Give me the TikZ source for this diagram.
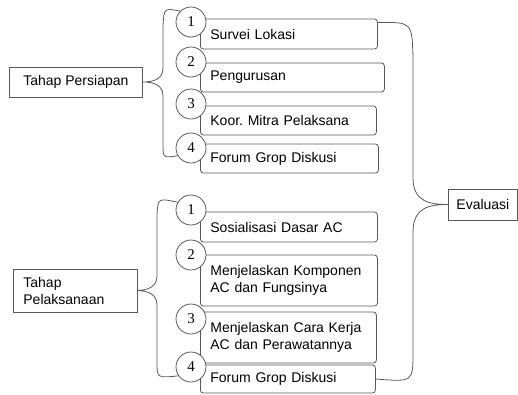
\documentclass[tikz,border=0pt]{standalone}
\usepackage{fontspec}
\setmainfont{Liberation Sans}
\newfontfamily\numfont{Liberation Serif}
\usetikzlibrary{calc}
\frenchspacing

\tikzset{
  itembox/.style={draw=black!65, rounded corners=3pt, anchor=west, inner xsep=10pt, align=left, font=\fontsize{14}{17}\selectfont},
  phasebox/.style={draw=black!65, anchor=west, inner xsep=10pt, align=left, font=\fontsize{14}{17}\selectfont},
  numcircle/.style={draw=black!65, fill=white, circle, minimum size=30pt, inner sep=0pt, font=\numfont\fontsize{15}{15}\selectfont},
  brace/.style={draw=black!65, line width=0.8pt}
}

\begin{document}
\begin{tikzpicture}[x=1pt, y=-1pt, line width=0.8pt]
			%%%%% START %%%%%
			\useasboundingbox (0,0) rectangle (518,394);
			
			% tahap persiapan
			\node[phasebox, minimum width=133pt, minimum height=30pt] (persiapan) at (9,82) {Tahap Persiapan};
			
			\node[itembox, text width=157pt, minimum height=30pt] (s1) at (200,34) {Survei Lokasi};
			\node[itembox, text width=164pt, minimum height=29pt] (s2) at (200,77.5) {Pengurusan};
			\node[itembox, text width=156pt, minimum height=29pt] (s3) at (200,120.5) {Koor. Mitra Pelaksana};
			\node[itembox, text width=158pt, minimum height=29pt] (s4) at (200,158.5) {Forum Grop Diskusi};
			
			\node[numcircle] (c1) at (191,22) {1};
			\node[numcircle] (c2) at (191,62) {2};
			\node[numcircle] (c3) at (191,104) {3};
			\node[numcircle] (c4) at (191,148) {4};
			
			% tahap pelaksanaan
			\node[phasebox, text width=104pt, minimum height=43pt] (pelaksanaan) at (13,290.5) {Tahap\\Pelaksanaan};
			
			\node[itembox, text width=157pt, minimum height=30pt] (p1) at (200,227) {Sosialisasi Dasar AC};
			\node[itembox, text width=157pt, minimum height=51pt] (p2) at (200,280.5) {Menjelaskan Komponen\\AC dan Fungsinya};
			\node[itembox, text width=156pt, minimum height=51pt] (p3) at (200,337.5) {Menjelaskan Cara Kerja\\AC dan Perawatannya};
			\node[itembox, text width=155pt, minimum height=28pt] (p4) at (200,379) {Forum Grop Diskusi};
			
			\node[numcircle] (d1) at (191,210) {1};
			\node[numcircle] (d2) at (191,255) {2};
			\node[numcircle] (d3) at (191,319) {3};
			\node[numcircle] (d4) at (191,367) {4};
			
			% evaluasi
			\node[phasebox, minimum width=69pt, minimum height=31pt, inner xsep=0pt, align=center] (evaluasi) at (448,204.5) {Evaluasi};
			
			% braces
			\draw[brace] (c1.135) .. controls (164,8) .. (163,26) -- (163,68)
			  .. controls (163,80) and (152,82) .. (persiapan.east)
			  .. controls (152,82) and (163,84) .. (163,96) -- (163,144)
			  .. controls (163,158) .. (c4.210);
			
			\draw[brace] (d1.150) .. controls (158,198) .. (157,215) -- (157,276)
			  .. controls (157,288) and (146,290) .. (pelaksanaan.east)
			  .. controls (146,291) and (157,293) .. (157,305) -- (157,362)
			  .. controls (157,378) .. (d4.215);
			
			\draw[brace] ([yshift=-4pt]s1.north east) .. controls (412,22) .. (413,58) -- (413,178)
			  .. controls (413,202) and (430,204.5) .. (evaluasi.west)
			  .. controls (430,204.5) and (413,207) .. (413,232) -- (413,352)
			  .. controls (413,382) .. (p4.east);
			%%%%% END %%%%%
		\end{tikzpicture}
\end{document}
